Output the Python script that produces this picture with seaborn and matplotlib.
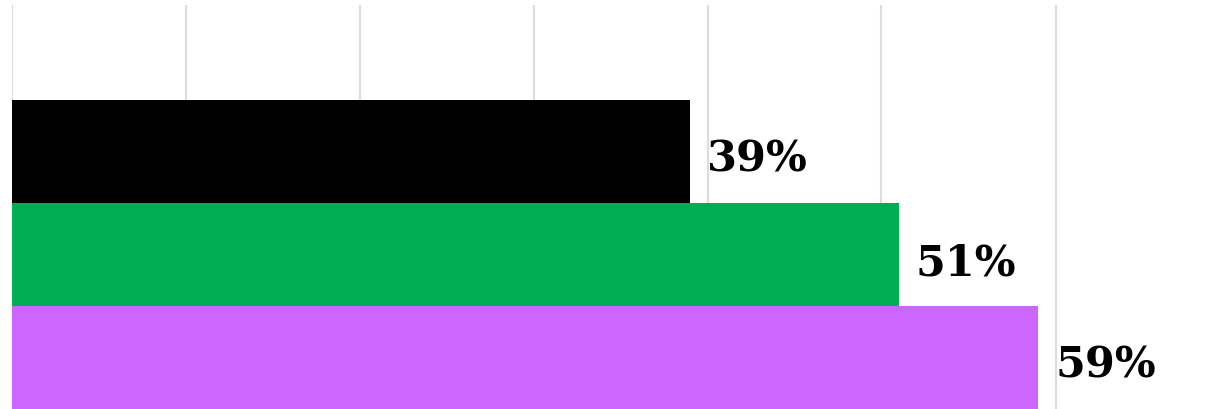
import matplotlib
matplotlib.use("Agg")
import matplotlib.pyplot as plt
import seaborn as sns
import pandas as pd

categories = ["A", "B", "C"]
values = [39, 51, 59]
labels = ["39%", "51%", "59%"]
colors = ["#000000", "#00AD50", "#CC66FF"]

sns.set_style("white")
plt.rcParams['font.family'] = ['DejaVu Serif']

df = pd.DataFrame({"cat": categories, "val": values})

W, H = 1223, 410
fig = plt.figure(figsize=(W / 100, H / 100), dpi=100)
left_px, top_px = 11.5, 6
ax = fig.add_axes([left_px / W, 0, 1 - left_px / W, 1 - top_px / H])

sns.barplot(data=df, y="cat", x="val", hue="cat", palette=colors, orient="h",
            width=1.0, dodge=False, legend=False, ax=ax, zorder=3, linewidth=0,
            saturation=1)

px_per_unit = 17.4
ax.set_xlim(0, (W - left_px) / px_per_unit)
unit_px = 103
ax.set_ylim(2.5, 2.5 - (H - top_px) / unit_px)

ax.set_xticks([0, 10, 20, 30, 40, 50, 60])
ax.set_xticklabels([])
ax.set_yticks([])
ax.xaxis.grid(True, color="#dcdcdc", linewidth=1.5, zorder=0)
ax.set_axisbelow(True)
for s in ax.spines.values():
    s.set_visible(False)
ax.set_xlabel("")
ax.set_ylabel("")
ax.tick_params(length=0)

for i, (v, lab) in enumerate(zip(values, labels)):
    ax.annotate(lab, xy=(v, i), xytext=(17, -3), textcoords="offset pixels",
                ha="left", va="center_baseline", fontsize=31, fontweight="bold",
                color="black", zorder=5)

fig.savefig("out.png", dpi=100)
